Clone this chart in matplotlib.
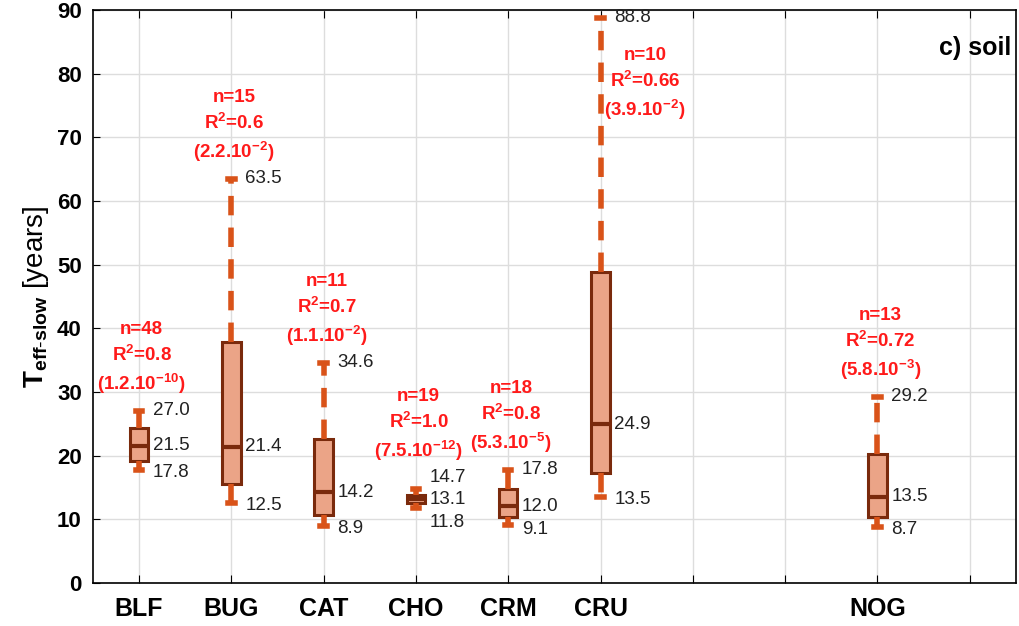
import numpy as np
import matplotlib.pyplot as plt

plt.rcParams['font.family'] = ['Liberation Sans', 'DejaVu Sans']
plt.rcParams['mathtext.fontset'] = 'custom'
plt.rcParams['mathtext.rm'] = 'Liberation Sans'
plt.rcParams['mathtext.bf'] = 'Liberation Sans:bold'
plt.rcParams['mathtext.it'] = 'Liberation Sans:italic'

# data
sites = ['BLF', 'BUG', 'CAT', 'CHO', 'CRM', 'CRU', 'NOG']
site_pos = [1, 2, 3, 4, 5, 6, 9]
wlo = [17.8, 12.5, 8.9, 11.8, 9.1, 13.5, 8.7]
q1 = [19.1, 15.5, 10.7, 12.5, 10.3, 17.3, 10.3]
med = [21.5, 21.4, 14.2, 13.1, 12.0, 24.9, 13.5]
q3 = [24.3, 37.9, 22.6, 13.8, 14.7, 48.9, 20.2]
whi = [27.0, 63.5, 34.6, 14.7, 17.8, 88.8, 29.2]
n_obs = [48, 15, 11, 19, 18, 10, 13]
r2 = ['0.8', '0.6', '0.7', '1.0', '0.8', '0.66', '0.72']
p_mant = ['1.2', '2.2', '1.1', '7.5', '5.3', '3.9', '5.8']
p_exp = ['-10', '-2', '-2', '-12', '-5', '-2', '-3']

edge = '#7a2a0c'
whisk = '#d95319'
fill = '#eba487'

fig = plt.figure(figsize=(10.2, 6.26), dpi=100)
ax = fig.add_axes([0.091, 0.069, 0.905, 0.915])

stats = []
for i in range(len(sites)):
    stats.append(dict(med=med[i], q1=q1[i], q3=q3[i], whislo=wlo[i], whishi=whi[i], fliers=[]))

ax.bxp(stats, positions=site_pos, widths=0.2, patch_artist=True, showfliers=False,
       boxprops=dict(facecolor=fill, edgecolor=edge, linewidth=2.2),
       medianprops=dict(color=edge, linewidth=3),
       whiskerprops=dict(color=whisk, linewidth=4, linestyle=(0, (3.5, 2.2))),
       capprops=dict(color=whisk, linewidth=4), capwidths=0.07, zorder=3)

# value labels, nudged apart when too close
for i in range(len(sites)):
    x = site_pos[i] + 0.15
    y_hi = max(whi[i], med[i] + 3.4)
    y_lo = min(wlo[i], med[i] - 3.2)
    ax.text(x, y_hi, '%.1f' % whi[i], fontsize=13.5, va='center', ha='left', color='#222222')
    ax.text(x, med[i], '%.1f' % med[i], fontsize=13.5, va='center', ha='left', color='#222222')
    ax.text(x, y_lo - 0.4, '%.1f' % wlo[i], fontsize=13.5, va='center', ha='left', color='#222222')

    label = ('n=%d\n' % n_obs[i]
             + r'$\mathbf{R^{2}}$=' + r2[i] + '\n'
             + '(' + p_mant[i] + r'.$\mathbf{10^{' + p_exp[i] + '}}$)')
    if sites[i] == 'CRU':
        ax.text(site_pos[i] + 0.48, 78.3, label, fontsize=13.5, fontweight='bold', color='#ff1a1a',
                ha='center', va='center', linespacing=1.4)
    else:
        ax.text(site_pos[i] + 0.03, y_hi + 2.3, label, fontsize=13.5, fontweight='bold', color='#ff1a1a',
                ha='center', va='bottom', linespacing=1.4)

ax.text(10.45, 84, 'c) soil', fontsize=18, fontweight='bold', ha='right', va='center')

ax.set_xlim(0.5, 10.5)
ax.set_ylim(0, 90)
ax.set_xticks(np.arange(1, 11))
labels = [''] * 10
for s, p in zip(sites, site_pos):
    labels[p - 1] = s
ax.set_xticklabels(labels, fontsize=18, fontweight='bold')
ax.set_yticks(np.arange(0, 91, 10))
ax.tick_params(axis='y', labelsize=16, direction='in', length=5, pad=8)
ax.tick_params(axis='x', direction='in', length=6, pad=10, top=True)
for t in ax.get_yticklabels():
    t.set_fontweight('bold')
ax.grid(True, color='#dddddd', linewidth=1)
ax.set_axisbelow(True)
ax.set_ylabel(r'$\mathbf{T}_{\mathbf{eff\text{-}slow}}$ [years]', fontsize=20, labelpad=4)
for sp in ax.spines.values():
    sp.set_linewidth(1.2)

fig.savefig('out.png', dpi=100)
